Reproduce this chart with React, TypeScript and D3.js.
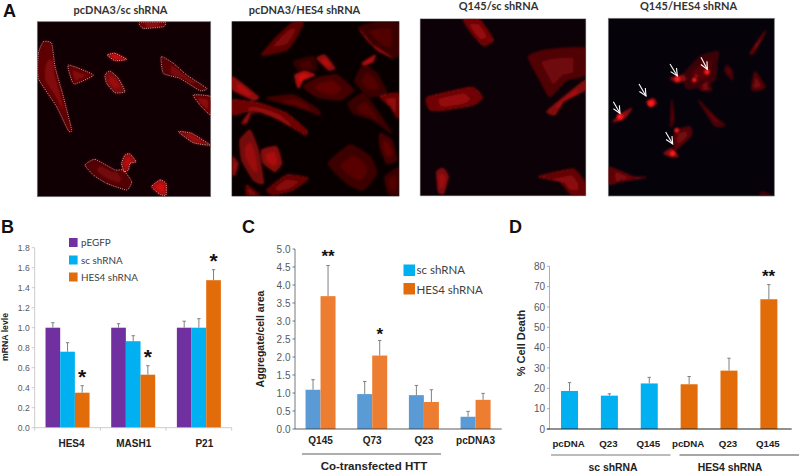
import React from "react";
import * as d3 from "d3";

// ---------- bar data ----------
const bGroups = ["HES4", "MASH1", "P21"];
const bSeries = ["pEGFP", "sc shRNA", "HES4 shRNA"];
const bPegfp = [1.0, 1.0, 1.0];
const bSc = [0.76, 0.865, 1.0];
const bHes = [0.35, 0.53, 1.475];
const bPegfpTop = [1.05, 1.04, 1.065];
const bScTop = [0.85, 0.92, 1.09];
const bHesTop = [0.42, 0.62, 1.58];
const bStars = ["*", "*", "*"];
const bTicks = [0, 0.2, 0.4, 0.6, 0.8, 1, 1.2, 1.4, 1.6, 1.8];

const cGroups = ["Q145", "Q73", "Q23", "pcDNA3"];
const cSeries = ["sc shRNA", "HES4 shRNA"];
const cSc = [1.09, 0.97, 0.94, 0.34];
const cHes = [3.69, 2.04, 0.75, 0.81];
const cScTop = [1.37, 1.32, 1.21, 0.49];
const cHesTop = [4.54, 2.46, 1.09, 0.99];
const cTicks = [0, 0.5, 1, 1.5, 2, 2.5, 3, 3.5, 4, 4.5, 5];

const dGroups = ["pcDNA", "Q23", "Q145", "pcDNA ", "Q23 ", "Q145 "];
const dValues = [18.7, 16.4, 22.4, 22, 28.7, 63.8];
const dTops = [22.8, 17.3, 25.4, 25.8, 34.8, 71];
const dTicks = [0, 10, 20, 30, 40, 50, 60, 70, 80];

// ---------- micrograph outlines, in a 3x working grid ----------
type Cell = [number, number[][]];
const panel1Cells: Cell[] = [
  [0.5, [[115,160],[130,125],[155,130],[165,200],[190,290],[215,390],[205,392],[170,320],[115,235]]],
  [0.5, [[205,195],[280,225],[225,252],[215,240]]],
  [0.95, [[322,165],[345,160],[380,178],[345,182]]],
  [0.65, [[315,225],[330,213],[355,235],[375,275],[345,278],[320,250]]],
  [0.45, [[484,170],[520,190],[560,225],[620,265],[600,272],[540,235],[490,220]]],
  [0.55, [[580,285],[632,290],[632,345],[600,315]]],
  [0.7, [[535,395],[575,400],[630,435],[580,428]]],
  [0.42, [[255,495],[285,478],[345,510],[370,510],[395,545],[380,570],[320,550],[280,525]]],
  [0.85, [[365,490],[375,465],[390,462],[408,485],[390,490],[385,510],[372,515]]],
  [1, [[455,560],[480,540],[498,550],[498,585],[480,583]]],
  [0.6, [[418,67],[495,67],[490,80],[430,85]]],
];
const panel2Cells: Cell[] = [
  [0.5, [[785,165],[830,110],[880,67],[910,67],[890,110],[860,150]]],
  [0.3, [[1075,85],[1130,67],[1195,70],[1195,170],[1140,150]]],
  [0.65, [[1080,90],[1110,130],[1180,175],[1130,150]]],
  [0.85, [[1085,190],[1125,165],[1120,185],[1095,195]]],
  [0.8, [[950,175],[975,165],[1005,205],[985,210]]],
  [0.25, [[880,185],[940,170],[950,210],[900,215]]],
  [0.36, [[910,260],[950,235],[1010,225],[1060,270],[1020,300],[950,290]]],
  [1, [[885,225],[915,215],[945,225],[910,240],[895,265]]],
  [0.3, [[1065,245],[1090,195],[1130,220],[1160,280],[1110,290]]],
  [0.8, [[698,230],[775,290],[760,300],[698,270]]],
  [0.35, [[800,295],[880,285],[950,325],[960,345],[890,320]]],
  [0.62, [[698,300],[780,310],[860,340],[920,390],[915,405],[840,360],[760,330],[698,345]]],
  [0.7, [[725,370],[745,340],[750,345],[740,370]]],
  [0.3, [[1045,310],[1090,280],[1130,330],[1175,400],[1120,360],[1060,340]]],
  [0.6, [[1140,290],[1195,280],[1195,355],[1170,320]]],
  [0.36, [[1140,400],[1175,420],[1190,480],[1160,490],[1140,440]]],
  [0.66, [[720,420],[750,390],[775,450],[790,550],[760,540],[725,480]]],
  [0.75, [[785,450],[830,440],[845,490],[825,515],[790,490]]],
  [0.65, [[698,470],[715,490],[705,525],[698,525]]],
  [0.55, [[800,570],[860,525],[925,535],[880,570],[820,585]]],
  [0.5, [[740,555],[780,586],[740,586]]],
  [0.32, [[985,490],[1050,435],[1110,470],[1130,520],[1090,570],[1040,550]]],
  [0.3, [[1155,530],[1195,505],[1195,586],[1165,580]]],
];
const panel3Cells: Cell[] = [
  [0.62, [[190,58],[238,58],[280,120],[250,137],[215,100]]],
  [0.42, [[385,170],[440,150],[556,145],[556,225],[500,240],[450,290],[420,240]]],
  [0.72, [[440,335],[480,300],[556,240],[556,270],[490,305],[465,345]]],
  [0.62, [[82,292],[215,262],[248,292],[220,315],[120,332],[88,328]]],
  [0.68, [[110,515],[130,505],[145,530],[130,582],[115,575]]],
  [0.55, [[415,530],[520,507],[556,550],[556,586],[515,586],[480,545]]],
];
const panel4Cells: Cell[] = [
  [0.5, [[627,502],[700,530],[738,532],[660,545],[627,552]]],
  [0.5, [[1050,160],[1075,120],[1098,92],[1070,145],[1058,162]]],
  [0.45, [[1055,265],[1065,215],[1095,262],[1065,272]]],
  [0.32, [[860,265],[850,225],[900,170],[955,155],[950,190],[945,240],[900,260]]],
  [0.65, [[810,235],[850,225],[855,240],[830,248]]],
  [0.36, [[980,195],[995,210],[998,240],[975,215]]],
  [0.45, [[900,265],[920,245],[935,270],[905,272]]],
  [0.65, [[638,365],[665,340],[695,325],[680,350],[660,362]]],
  [0.8, [[740,305],[760,295],[770,310],[750,322]]],
  [0.36, [[815,300],[822,360],[812,380]]],
  [0.38, [[895,300],[950,355],[975,375],[945,378]]],
  [0.45, [[820,415],[830,390],[870,380],[875,405],[845,435],[825,450]]],
  [0.65, [[790,460],[815,445],[835,470],[810,470]]],
  [0.3, [[1085,575],[1115,586],[1080,586]]],
];
const panel4Spots = [[660,350,9],[753,310,9],[832,237,8],[883,240,7],[921,216,8],[830,391,7],[818,460,8],[889,227,3]];
const panel4Arrows = [[640,305,660,340],[717,252,738,288],[810,192,832,228],[903,172,922,208],[797,396,818,432]];

const panelTitles = ["pcDNA3/sc shRNA", "pcDNA3/HES4 shRNA", "Q145/sc shRNA", "Q145/HES4 shRNA"];

const PURPLE = "#7030a0", CYAN = "#00b0f0", ORANGE = "#e36c0a", STEEL = "#5b9bd5", PEACH = "#ed7d31";
const ARIAL = "'Liberation Sans', Arial, sans-serif";
const CALIBRI = "Lato, 'Open Sans', sans-serif";
const GRAY = "#595959";

const blob = d3.line<number[]>().x(p => p[0] / 3).y(p => p[1] / 3).curve(d3.curveCardinalClosed.tension(0.55));

function inner(pts: number[][], k: number) {
  const cx = d3.mean(pts, p => p[0])!, cy = d3.mean(pts, p => p[1])!;
  return pts.map(p => [cx + (p[0] - cx) * k, cy + (p[1] - cy) * k]);
}

function Cells({ cells, outline, offset = 0 }: { cells: Cell[]; outline?: boolean; offset?: number }) {
  return (
    <g transform={`translate(${offset},0)`}>
      <g filter="url(#soft)">
        {cells.map((c, i) => (
          <g key={i}>
            <path d={blob(c[1]) as string} fill="#c80c0c" fillOpacity={c[0] * 0.85} stroke="#ff1c1c" strokeOpacity={c[0] * 0.7} strokeWidth={0.9} />
            <path d={blob(inner(c[1], 0.55)) as string} fill="#ff1414" fillOpacity={c[0] * 0.45} />
          </g>
        ))}
      </g>
      {outline && cells.map((c, i) => (
        <path key={i} d={blob(c[1]) as string} fill="none" stroke="#e8dcdc" strokeWidth={0.7} strokeDasharray="1 1.2" />
      ))}
    </g>
  );
}

function YAxis({ y, ticks, x, color, fmt, size, family, tickLen = 3 }: any) {
  return (
    <g>
      <line x1={x} x2={x} y1={y.range()[0]} y2={y.range()[1]} stroke={color} strokeWidth={0.8} />
      {ticks.map((t: number) => (
        <g key={t}>
          <line x1={x - tickLen} x2={x} y1={y(t)} y2={y(t)} stroke={color} strokeWidth={0.8} />
          <text x={x - tickLen - 2} y={y(t) + size * 0.36} textAnchor="end" fontSize={size} fontFamily={family} fill={GRAY}>{fmt(t)}</text>
        </g>
      ))}
    </g>
  );
}

function ErrorBar({ x, y0, y1, cap = 1.7 }: { x: number; y0: number; y1: number; cap?: number }) {
  return (
    <g stroke="#808080" strokeWidth={1}>
      <line x1={x} x2={x} y1={y0} y2={y1} />
      <line x1={x - cap} x2={x + cap} y1={y1} y2={y1} />
    </g>
  );
}

function Star({ x, y, text, size = 20 }: { x: number; y: number; text: string; size?: number }) {
  return <text x={x} y={y} textAnchor="middle" fontSize={size} fontWeight="bold" fontFamily={ARIAL} fill="#111">{text}</text>;
}

function PanelB() {
  const y = d3.scaleLinear().domain([0, 1.8]).range([427.7, 247.7]);
  const x0 = d3.scaleBand<string>().domain(bGroups).range([34.7, 231.7]);
  const width = 14.67;
  const x1 = d3.scaleBand<string>().domain(bSeries).range([-width * 1.5, width * 1.5]);
  const colors = [PURPLE, CYAN, ORANGE];
  const vals = [bPegfp, bSc, bHes];
  const tops = [bPegfpTop, bScTop, bHesTop];
  const legY = [238, 255.5, 272.5];
  return (
    <g>
      <YAxis y={y} ticks={bTicks} x={34.7} color="#bfbfbf" fmt={d3.format(".1f")} size={8.6} family={ARIAL} />
      {bGroups.map((g, gi) => (
        <g key={g}>
          {bSeries.map((s, si) => {
            const bx = x0(g)! + x0.bandwidth() / 2 + x1(s)!;
            return (
              <g key={s}>
                <rect x={bx} y={y(vals[si][gi])} width={width} height={y(0) - y(vals[si][gi])} fill={colors[si]} />
                <ErrorBar x={bx + width / 2} y0={y(vals[si][gi])} y1={y(tops[si][gi])} />
              </g>
            );
          })}
          <text x={x0(g)! + x0.bandwidth() / 2 + [4, 0.5, 5.5][gi]} y={446.5} textAnchor="middle" fontSize={10} fontWeight="bold" fontFamily={ARIAL} fill="#222">{g}</text>
        </g>
      ))}
      <line x1={34.7} x2={231.7} y1={y(0)} y2={y(0)} stroke="#bfbfbf" strokeWidth={0.8} />
      {[0, 1, 2, 3].map(i => {
        const tx = 34.7 + i * x0.step();
        return <line key={i} x1={tx} x2={tx} y1={y(0)} y2={y(0) + 3} stroke="#bfbfbf" strokeWidth={0.8} />;
      })}
      {bSeries.map((s, i) => (
        <g key={s}>
          <rect x={69} y={legY[i]} width={8.6} height={9} fill={colors[i]} />
          <text x={81} y={legY[i] + 8} fontSize={9.9} fontFamily={CALIBRI} fill="#404040">{s}</text>
        </g>
      ))}
      <text transform="translate(8,337) rotate(-90)" textAnchor="middle" fontSize={8.7} fontWeight="bold" fontFamily={ARIAL} fill="#222">mRNA  levle</text>
      {bGroups.map((g, gi) => (
        <Star key={g} text={bStars[gi]}
          x={x0(g)! + x0.bandwidth() / 2 + width}
          y={y(bHesTop[gi]) - 1.5} size={21} />
      ))}
    </g>
  );
}

function PanelC() {
  const y = d3.scaleLinear().domain([0, 5]).range([429, 249]);
  const x0 = d3.scaleBand<string>().domain(cGroups).range([295, 501.7]);
  const width = 15;
  const colors = [STEEL, PEACH];
  const vals = [cSc, cHes];
  const tops = [cScTop, cHesTop];
  const stars = ["**", "*", "", ""];
  const starY = [262, 340, 0, 0];
  return (
    <g>
      <YAxis y={y} ticks={cTicks} x={295} color="#555" fmt={d3.format(".1f")} size={10} family={ARIAL} tickLen={2.5} />
      {cGroups.map((g, gi) => {
        const cx = x0(g)! + x0.bandwidth() / 2 - 0.3;
        return (
          <g key={g}>
            {colors.map((c, si) => {
              const bx = cx + (si - 1) * width;
              return (
                <g key={si}>
                  <rect x={bx} y={y(vals[si][gi])} width={width} height={y(0) - y(vals[si][gi])} fill={c} />
                  <ErrorBar x={bx + width / 2} y0={y(vals[si][gi])} y1={y(tops[si][gi])} />
                </g>
              );
            })}
            <text x={cx - [0, 0, 0, 0][gi]} y={444} textAnchor="middle" fontSize={10} fontWeight="bold" fontFamily={ARIAL} fill="#222">{g}</text>
            {stars[gi] && <Star x={cx + width / 2} y={starY[gi]} text={stars[gi]} size={17} />}
          </g>
        );
      })}
      <line x1={295} x2={501.7} y1={429} y2={429} stroke="#333" strokeWidth={0.8} />
      <line x1={302} x2={441} y1={454} y2={454} stroke="#333" strokeWidth={0.8} />
      <text x={374} y={470} textAnchor="middle" fontSize={11.5} fontWeight="bold" fontFamily={ARIAL} fill="#222">Co-transfected HTT</text>
      <text transform="translate(264,339) rotate(-90)" textAnchor="middle" fontSize={10.5} fontWeight="bold" fontFamily={ARIAL} fill="#222">Aggregate/cell area</text>
      {cSeries.map((s, i) => (
        <g key={s}>
          <rect x={403.5} y={[264.5, 283][i]} width={11.5} height={11.5} fill={[CYAN, ORANGE][i]} />
          <text x={416.5} y={[273.5, 294][i]} fontSize={11.5} fontFamily={CALIBRI} fill="#404040">{s}</text>
        </g>
      ))}
    </g>
  );
}

function PanelD() {
  const y = d3.scaleLinear().domain([0, 80]).range([429, 266.3]);
  const x = d3.scaleBand<string>().domain(dGroups).range([549.6, 788.8]);
  const width = 17;
  return (
    <g>
      <YAxis y={y} ticks={dTicks} x={549.5} color="#999" fmt={d3.format("d")} size={10} family="'Liberation Sans Narrow', 'Liberation Sans', sans-serif" tickLen={2.5} />
      {dGroups.map((g, i) => {
        const cx = x(g)! + x.bandwidth() / 2;
        return (
          <g key={g}>
            <rect x={cx - width / 2} y={y(dValues[i])} width={width} height={y(0) - y(dValues[i])} fill={i < 3 ? CYAN : ORANGE} />
            <ErrorBar x={cx} y0={y(dValues[i])} y1={y(dTops[i])} />
            <text x={cx - 1} y={447} textAnchor="middle" fontSize={9.7} fontWeight="bold" fontFamily={ARIAL} fill="#222">{g.trim()}</text>
          </g>
        );
      })}
      <line x1={546.7} x2={791.7} y1={429} y2={429} stroke="#222" strokeWidth={1} />
      <line x1={551} x2={670.5} y1={455} y2={455} stroke="#555" strokeWidth={0.8} />
      <line x1={679.5} x2={799} y1={455} y2={455} stroke="#222" strokeWidth={0.8} />
      <text x={613} y={471} textAnchor="middle" fontSize={10.4} fontWeight="bold" fontFamily={ARIAL} fill="#222">sc shRNA</text>
      <text x={730} y={471} textAnchor="middle" fontSize={10.4} fontWeight="bold" fontFamily={ARIAL} fill="#222">HES4 shRNA</text>
      <text transform="translate(525,343) rotate(-90)" textAnchor="middle" fontSize={11} fontWeight="bold" fontFamily={ARIAL} fill="#222">% Cell Death</text>
      <Star x={768.5} y={282} text="**" size={17} />
    </g>
  );
}

function PanelA() {
  const frames = [
    { x: 37.3, y: 21.7, w: 173.4, h: 175, bg: "#100004", border: "#777", cells: panel1Cells, off: 0, title: 120.5 },
    { x: 232, y: 21.7, w: 167, h: 174.3, bg: "#080000", border: "#222", cells: panel2Cells, off: 0, title: 304.5 },
    { x: 420, y: 18.7, w: 166, h: 177.3, bg: "#0c0106", border: "#ccc", cells: panel3Cells, off: 400, title: 498.5 },
    { x: 608.3, y: 18.3, w: 166, h: 177.7, bg: "#06020a", border: "#777", cells: panel4Cells, off: 400, title: 688.5 },
  ];
  return (
    <g>
      {frames.map((f, i) => (
        <g key={i}>
          <clipPath id={`frame${i}`}><rect x={f.x} y={f.y} width={f.w} height={f.h} /></clipPath>
          <text x={f.title} y={i < 2 ? 14 : 10} textAnchor="middle" fontSize={11} fontWeight="bold" fontFamily={CALIBRI} fill="#333">{panelTitles[i]}</text>
          <rect x={f.x} y={f.y} width={f.w} height={f.h} fill={f.bg} stroke={f.border} strokeWidth={0.7} />
          <g clipPath={`url(#frame${i})`}>
            <Cells cells={f.cells} outline={i === 0} offset={f.off} />
          </g>
        </g>
      ))}
      <g transform="translate(400,0)">
        <g filter="url(#soft)">
          {panel4Spots.map((s, i) => <circle key={i} cx={s[0] / 3} cy={s[1] / 3} r={s[2] / 3} fill="#ff1a1a" />)}
        </g>
        {panel4Arrows.map((a, i) => {
          const [x1, y1, x2, y2] = a.map(v => v / 3);
          const ang = Math.atan2(y2 - y1, x2 - x1);
          const head = [ang + 2.7, ang - 2.7].map(t => [x2 + 8 * Math.cos(t), y2 + 8 * Math.sin(t)]);
          return (
            <g key={i} stroke="#fff" strokeWidth={1.1} fill="none">
              <line x1={x1} y1={y1} x2={x2} y2={y2} />
              <polyline points={`${head[0].join(",")} ${x2},${y2} ${head[1].join(",")}`} />
            </g>
          );
        })}
      </g>
    </g>
  );
}

export default function App() {
  const letter = (t: string, x: number, y: number) => (
    <text x={x} y={y} fontSize={18} fontWeight="bold" fontFamily={ARIAL} fill="#111">{t}</text>
  );
  return (
    <svg width={800} height={472} viewBox="0 0 800 472" style={{ position: "absolute", left: 0, top: 0, background: "#fff" }}>
      <defs>
        <filter id="soft" x="-10%" y="-10%" width="120%" height="120%">
          <feGaussianBlur stdDeviation="1" />
        </filter>
      </defs>
      {letter("A", 3, 17)}
      {letter("B", 1, 233)}
      {letter("C", 242, 233)}
      {letter("D", 509, 233)}
      <PanelA />
      <PanelB />
      <PanelC />
      <PanelD />
    </svg>
  );
}
